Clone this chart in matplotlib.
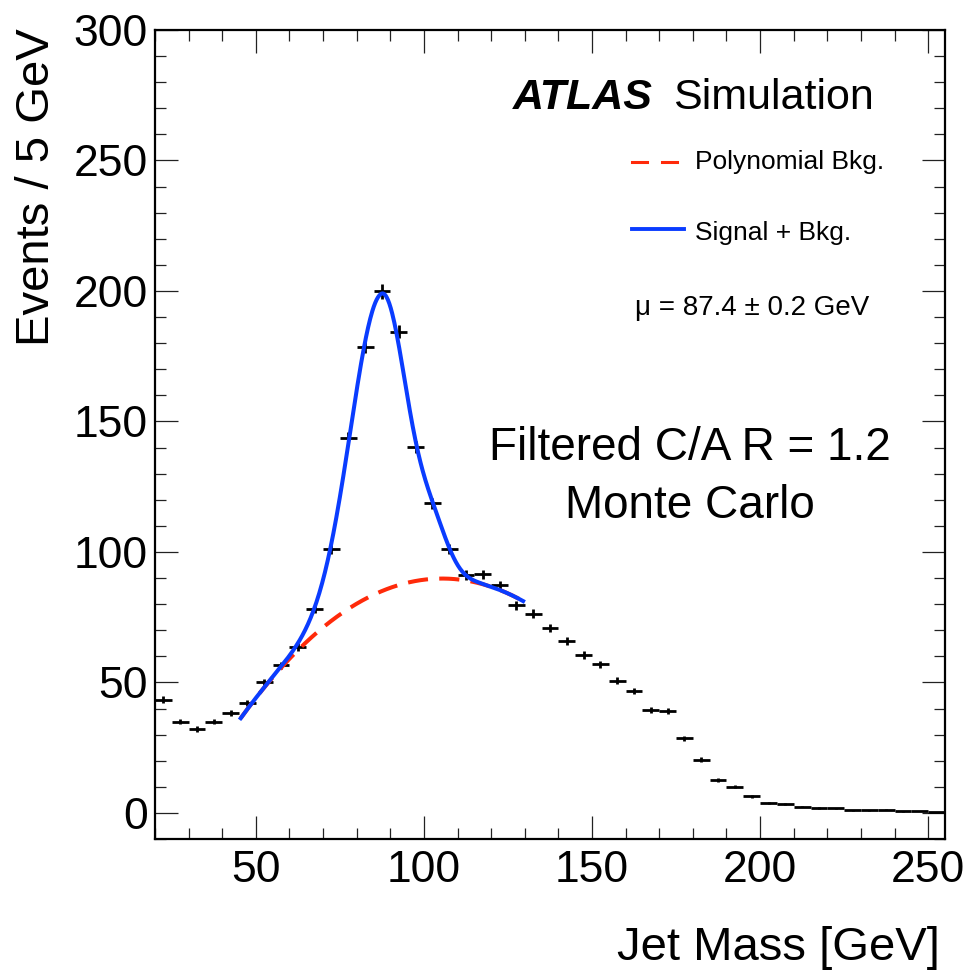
import numpy as np
import matplotlib
matplotlib.use("Agg")
import matplotlib.pyplot as plt
from matplotlib.ticker import MultipleLocator

plt.rcParams['font.family'] = ['Liberation Sans', 'DejaVu Sans']

# Jet mass histogram, 5 GeV bins starting at 20 GeV
bin_centers = np.arange(22.5, 255, 5.0)
counts = [43.4, 35.0, 32.2, 35.0, 38.2, 42.1, 50.0, 56.5, 63.6, 78.3,
          101.0, 143.7, 178.7, 199.8, 184.4, 140.3, 118.6, 101.2, 91.2, 91.4,
          87.2, 79.5, 76.4, 70.8, 65.9, 60.6, 56.9, 50.6, 46.7, 39.5,
          39.0, 28.6, 20.4, 12.7, 10.0, 6.4, 3.7, 3.3, 2.4, 1.9,
          1.8, 1.1, 1.1, 1.3, 0.6, 0.7, 0.3]
errors = [1.25, 1.1, 1.1, 1.1, 1.2, 1.2, 1.35, 1.4, 1.5, 1.7,
          1.9, 2.3, 2.5, 2.7, 2.6, 2.3, 2.1, 1.9, 1.8, 1.8,
          1.8, 1.7, 1.7, 1.6, 1.5, 1.5, 1.4, 1.35, 1.3, 1.2,
          1.2, 1.0, 0.85, 0.7, 0.6, 0.5, 0.35, 0.35, 0.3, 0.25,
          0.25, 0.2, 0.2, 0.2, 0.15, 0.15, 0.1]
bin_halfwidth = 2.5

# fit range and fitted parameters
fit_range = (45.5, 129.5)
bkg_pars = [89.36, 1.618, -1.49]          # quadratic in (m - 100)/10
sig_amp, sig_mu, sig_left, sig_right = 114.0, 87.4, 9.1, 7.6
tail_amp, tail_mu, tail_sigma = 14.0, 103.0, 4.5


def bkg(m):
    t = (m - 100.0) / 10.0
    return bkg_pars[0] + bkg_pars[1] * t + bkg_pars[2] * t ** 2


def signal(m):
    sig = np.where(m < sig_mu, sig_left, sig_right)
    core = sig_amp * np.exp(-0.5 * ((m - sig_mu) / sig) ** 2)
    tail = tail_amp * np.exp(-0.5 * ((m - tail_mu) / tail_sigma) ** 2)
    return core + tail


W, H = 970, 974
fig = plt.figure(figsize=(W / 100, H / 100), dpi=100)
ax = fig.add_axes([155 / W, 1 - 839 / H, 790 / W, 809 / H])

ax.errorbar(bin_centers, counts, xerr=bin_halfwidth, yerr=errors, fmt='none',
            ecolor='black', elinewidth=2.0, capsize=0, zorder=3)

m = np.linspace(fit_range[0], fit_range[1], 400)
red = '#ff2a0a'
blue = '#0a3cff'
ax.plot(m, bkg(m), color=red, lw=2.9, dashes=(5, 2.8), zorder=4)
ax.plot(m, bkg(m) + signal(m), color=blue, lw=2.9, zorder=5)

ax.set_xlim(20, 255)
ax.set_ylim(-10, 300)
ax.xaxis.set_major_locator(MultipleLocator(50))
ax.xaxis.set_minor_locator(MultipleLocator(10))
ax.yaxis.set_major_locator(MultipleLocator(50))
ax.yaxis.set_minor_locator(MultipleLocator(10))
ax.tick_params(which='both', direction='in', top=True, right=True, color='#222222')
ax.tick_params(which='major', length=16.5, width=0.9)
ax.tick_params(which='minor', length=8, width=0.9)
ax.tick_params(axis='x', which='major', labelsize=32, pad=8)
ax.tick_params(axis='y', which='major', labelsize=32, pad=5)
for s in ax.spines.values():
    s.set_linewidth(1.6)


def fx(px):
    return px / W


def fy(py):
    return 1 - py / H


# axis titles
fig.text(fx(37), fy(28), 'Events / 5 GeV', rotation=90, ha='center', va='top', fontsize=34)
fig.text(fx(940), fy(960), 'Jet Mass [GeV]', ha='right', va='baseline', fontsize=34)

# experiment label
fig.text(fx(513), fy(109), 'ATLAS', ha='left', va='baseline', fontsize=31,
         fontweight='bold', fontstyle='italic')
fig.text(fx(673), fy(109), 'Simulation', ha='left', va='baseline', fontsize=31)

# legend drawn by hand
for x0, x1 in [(632, 647), (662, 677)]:
    fig.add_artist(plt.Line2D([fx(x0), fx(x1)], [fy(162), fy(162)], color=red, lw=2.2))
fig.add_artist(plt.Line2D([fx(632), fx(684)], [fy(229), fy(229)], color=blue, lw=2.8))
fig.text(fx(695), fy(169), 'Polynomial Bkg.', ha='left', va='baseline', fontsize=19)
fig.text(fx(695), fy(240), 'Signal + Bkg.', ha='left', va='baseline', fontsize=19)
fig.text(fx(635), fy(315), '\u03bc = 87.4 \u00b1 0.2 GeV', ha='left', va='baseline', fontsize=20)

# sample description
fig.text(fx(690), fy(460), 'Filtered C/A R = 1.2', ha='center', va='baseline', fontsize=33)
fig.text(fx(690), fy(518), 'Monte Carlo', ha='center', va='baseline', fontsize=33)

fig.savefig('out.png', dpi=100)
